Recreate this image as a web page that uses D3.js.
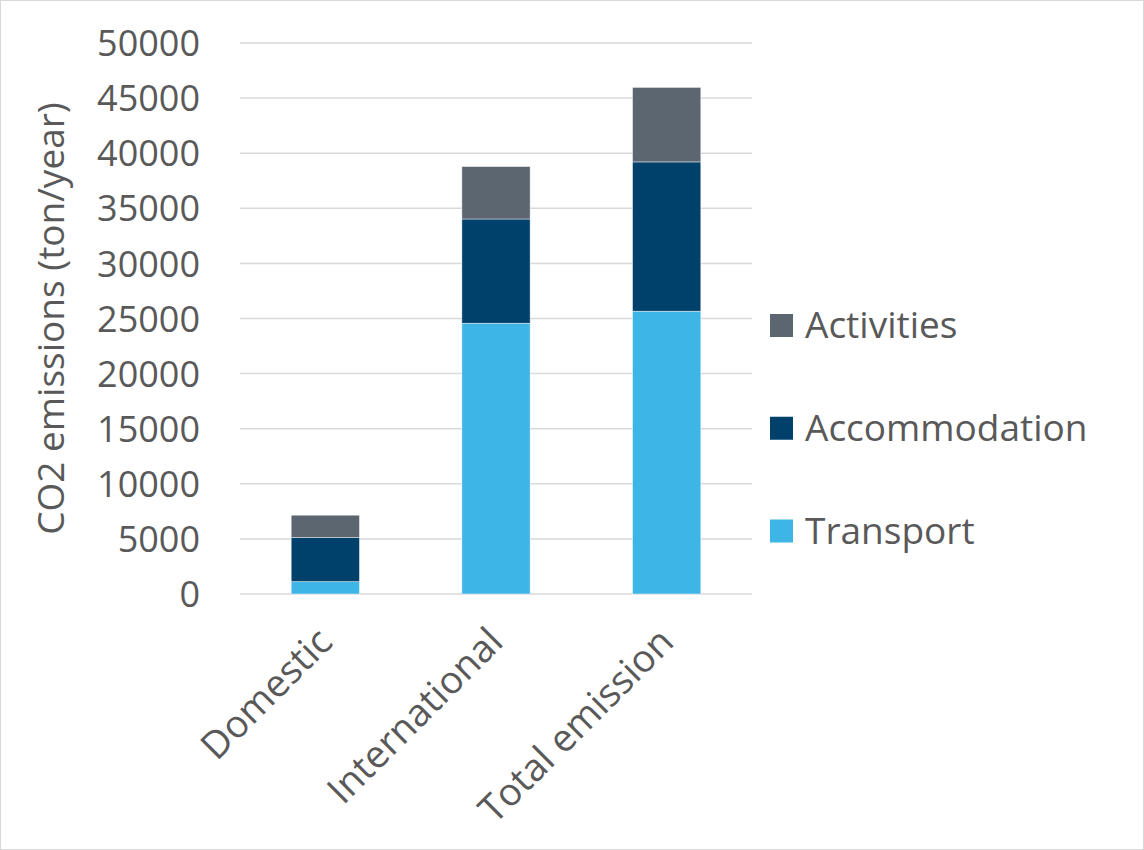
<!DOCTYPE html>
<html>
<head>
<meta charset="utf-8">
<script src="https://cdn.jsdelivr.net/npm/d3@7"></script>
<style>
  html, body { margin: 0; padding: 0; background: #fff; }
  svg { display: block; }
  text { font-family: "Open Sans", "Noto Sans", sans-serif; fill: #595959; }
</style>
</head>
<body>
<svg id="chart" width="1144" height="850"></svg>
<script>
const categories = ["Domestic", "International", "Total emission"];
const seriesNames = ["Transport", "Accommodation", "Activities"];
const transport = [1120, 24570, 25660];
const accommodation = [4000, 9460, 13550];
const activities = [2030, 4760, 6760];
const colors = ["#3DB5E6", "#00416B", "#5B6670"];
const yTicks = [0, 5000, 10000, 15000, 20000, 25000, 30000, 35000, 40000, 45000, 50000];
const yTitle = "CO2 emissions (ton/year)";
const legendOrder = ["Activities", "Accommodation", "Transport"];

(function () {
const svg = d3.select("#chart");
const W = 1144, H = 850;

svg.append("rect").attr("x", 0.5).attr("y", 0.5).attr("width", W - 1).attr("height", H - 1)
  .attr("fill", "#fff").attr("stroke", "#d9d9d9").attr("stroke-width", 1);

const pLeft = 240, pRight = 752, pTop = 43, pBottom = 594;

const x = d3.scaleBand().domain(categories).range([pLeft, pRight]).paddingInner(0.6).paddingOuter(0.3);
const y = d3.scaleLinear().domain([0, 50000]).range([pBottom, pTop]);

// gridlines
svg.append("g").selectAll("line").data(yTicks).join("line")
  .attr("x1", pLeft).attr("x2", pRight)
  .attr("y1", d => y(d)).attr("y2", d => y(d))
  .attr("stroke", "#d9d9d9").attr("stroke-width", 1.5);

// y tick labels
const yAxis = d3.axisLeft(y).tickValues(yTicks).tickSize(0).tickPadding(0).tickFormat(d3.format("d"));
const gy = svg.append("g").attr("transform", `translate(${pLeft - 40},0)`).call(yAxis);
gy.select(".domain").remove();
gy.selectAll("text").attr("font-size", 36).attr("fill", "#595959")
  .style("font-family", '"Open Sans", sans-serif').attr("dy", "0.35em");

// stacked data
const rows = categories.map((c, i) => ({
  category: c,
  Transport: transport[i],
  Accommodation: accommodation[i],
  Activities: activities[i]
}));
const stacked = d3.stack().keys(seriesNames)(rows);

svg.append("g").selectAll("g").data(stacked).join("g")
  .attr("fill", (d, i) => colors[i])
  .selectAll("rect").data(d => d).join("rect")
  .attr("x", d => x(d.data.category))
  .attr("width", x.bandwidth())
  .attr("y", d => y(d[1]))
  .attr("height", d => y(d[0]) - y(d[1]))
  .attr("stroke", "#ffffff").attr("stroke-width", 0.75).attr("stroke-opacity", 0.6);

// x axis labels (rotated)
const xAxis = d3.axisBottom(x).tickSize(0).tickPadding(0);
const gx = svg.append("g").attr("transform", `translate(0,${pBottom})`).call(xAxis);
gx.select(".domain").remove();
gx.selectAll(".tick text")
  .attr("font-size", 38).attr("fill", "#595959")
  .style("font-family", '"Open Sans", sans-serif')
  .attr("text-anchor", "end")
  .attr("x", 0).attr("y", 0).attr("dy", 0)
  .attr("transform", "translate(9,50) rotate(-45)");

// y title
svg.append("text")
  .attr("transform", `translate(64,${(pTop + pBottom) / 2}) rotate(-90)`)
  .attr("text-anchor", "middle")
  .attr("font-size", 37)
  .text(yTitle);

// legend
const legendColor = { Transport: colors[0], Accommodation: colors[1], Activities: colors[2] };
const lg = svg.append("g");
const ly = d3.scalePoint().domain(legendOrder).range([325.5, 531]);
lg.selectAll("rect").data(legendOrder).join("rect")
  .attr("x", 770).attr("y", d => ly(d) - 11.5).attr("width", 23).attr("height", 23)
  .attr("fill", d => legendColor[d]);
lg.selectAll("text").data(legendOrder).join("text")
  .attr("x", 805).attr("y", d => ly(d)).attr("dy", "0.35em")
  .attr("font-size", 37).text(d => d);
})();
</script>
</body>
</html>
